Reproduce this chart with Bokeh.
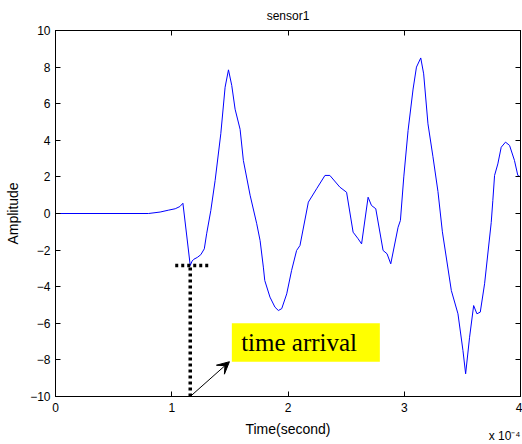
from bokeh.plotting import figure
from bokeh.models import (Range1d, FixedTicker, LinearAxis, Label, Arrow, VeeHead,
                          ColumnDataSource, Title, CustomJSTickFormatter)
from bokeh.embed import file_html
from bokeh.resources import INLINE

# time in units of 1e-4 s
time_e4 = [0.0, 0.8, 0.9, 0.97, 1.03, 1.07, 1.096, 1.159, 1.175, 1.19, 1.22, 1.25,
           1.28, 1.30, 1.336, 1.373, 1.422, 1.459, 1.488, 1.516, 1.545, 1.588, 1.616,
           1.674, 1.731, 1.76, 1.788, 1.80, 1.845, 1.888, 1.917, 1.946, 1.989, 2.031,
           2.074, 2.103, 2.175, 2.246, 2.318, 2.36, 2.446, 2.504, 2.56, 2.603, 2.633,
           2.689, 2.718, 2.755, 2.818, 2.852, 2.884, 2.947, 2.967, 2.996, 3.033, 3.076,
           3.105, 3.142, 3.167, 3.204, 3.247, 3.29, 3.328, 3.405, 3.462, 3.505, 3.528,
           3.562, 3.597, 3.625, 3.654, 3.691, 3.748, 3.762, 3.777, 3.805, 3.834, 3.871,
           3.906, 3.948, 3.977, 4.0]
amplitude = [0.0, 0.0, 0.08, 0.18, 0.26, 0.38, 0.56, -2.84, -2.6, -2.5, -2.4, -2.25,
             -1.93, -1.11, 0.16, 1.8, 4.36, 6.9, 7.85, 7.0, 5.7, 4.6, 2.9,
             1.0, -0.56, -1.48, -2.93, -3.66, -4.57, -5.12, -5.3, -5.2, -4.39, -3.11,
             -2.02, -1.75, 0.62, 1.35, 2.08, 2.08, 1.44, 1.16, -1.02, -1.38, -1.66,
             0.89, 0.44, 0.26, -2.02, -2.2, -2.75, -0.75, -0.38, 2.0, 4.54, 6.8,
             8.0, 8.5, 7.63, 4.9, 3.1, 1.2, -1.0, -4.21, -5.48, -7.49, -8.76,
             -6.76, -5.03, -5.48, -5.39, -3.84, -0.5, 0.71, 2.08, 2.71, 3.62, 3.9,
             3.72, 2.9, 2.08, 2.0]

x_ticks = [0, 1, 2, 3, 4]
y_ticks = [-10, -8, -6, -4, -2, 0, 2, 4, 6, 8, 10]

# annotation values
arrival_t = 1.159
arrival_amp = -2.84
hmark_t = [1.03, 1.325]
box_t = [1.517, 2.79]
box_amp = [-8.1, -6.0]
arrow_end = [1.496, -8.1]

FONT = "Liberation Sans"

p = figure(width=522, height=444, x_range=Range1d(0, 4), y_range=Range1d(-10, 10),
           output_backend="svg", toolbar_location=None,
           min_border_left=55, min_border_right=2, min_border_top=30, min_border_bottom=48)

p.title.text = "sensor1"
p.title.align = "center"
p.title.vertical_align = "top"
p.title.text_font = FONT
p.title.text_font_size = "12px"
p.title.text_font_style = "normal"
p.title.text_color = "black"
p.title.standoff = 12

p.grid.visible = False
p.outline_line_color = "black"
p.outline_line_width = 1

for ax, ticks in ((p.xaxis[0], x_ticks), (p.yaxis[0], y_ticks)):
    ax.ticker = FixedTicker(ticks=ticks)
    ax.major_tick_in = 5
    ax.major_tick_out = 0
    ax.minor_tick_in = 0
    ax.minor_tick_out = 0
    ax.axis_line_color = "black"
    ax.major_tick_line_color = "black"
    ax.major_label_text_font = FONT
    ax.major_label_text_font_size = "12px"
    ax.major_label_text_color = "black"
    ax.axis_label_text_font = FONT
    ax.axis_label_text_font_size = "14px"
    ax.axis_label_text_font_style = "normal"
    ax.axis_label_text_color = "black"

p.xaxis.axis_label = "Time(second)"
p.xaxis.major_label_standoff = 6
p.xaxis.axis_label_standoff = 6
p.yaxis.axis_label = "Amplitude"
p.yaxis.major_label_standoff = 5
p.yaxis.axis_label_standoff = 6

for loc, ticks in (("above", x_ticks), ("right", y_ticks)):
    ax = LinearAxis(ticker=FixedTicker(ticks=ticks), major_tick_in=5, major_tick_out=0,
                    minor_tick_in=0, minor_tick_out=0,
                    formatter=CustomJSTickFormatter(code="return ''"),
                    major_label_text_font_size="1px",
                    major_label_standoff=0, axis_line_color="black",
                    major_tick_line_color="black")
    p.add_layout(ax, loc)

# exponent note under the x axis, right aligned
p.add_layout(Title(text="x 10\u207b\u2074", align="right", vertical_align="top",
                   text_font=FONT, text_font_size="12px", text_font_style="normal",
                   text_color="black", standoff=-21), "below")

src = ColumnDataSource(dict(t=time_e4, a=amplitude))
p.line("t", "a", source=src, line_color="#0000ff", line_width=1)

# dotted arrival marker
p.line([arrival_t, arrival_t], [-10, arrival_amp], line_color="black", line_width=3.5,
       line_dash="3 3")
p.line(hmark_t, [arrival_amp, arrival_amp], line_color="black", line_width=3.5,
       line_dash="3 3")

# yellow text box
p.quad(left=[box_t[0]], right=[box_t[1]], bottom=[box_amp[0]], top=[box_amp[1]],
       fill_color="#ffff00", line_color=None)
p.add_layout(Label(x=box_t[0] + 0.08, y=(box_amp[0] + box_amp[1]) / 2, text="time arrival",
                   text_font="Liberation Serif", text_font_size="25px",
                   text_baseline="middle", text_color="black"))

p.add_layout(Arrow(end=VeeHead(size=12, fill_color="black", line_color="black"),
                   x_start=arrival_t, y_start=-10, x_end=arrow_end[0], y_end=arrow_end[1],
                   line_width=1, line_color="black"))

open("out.html", "w").write(file_html(p, INLINE))
